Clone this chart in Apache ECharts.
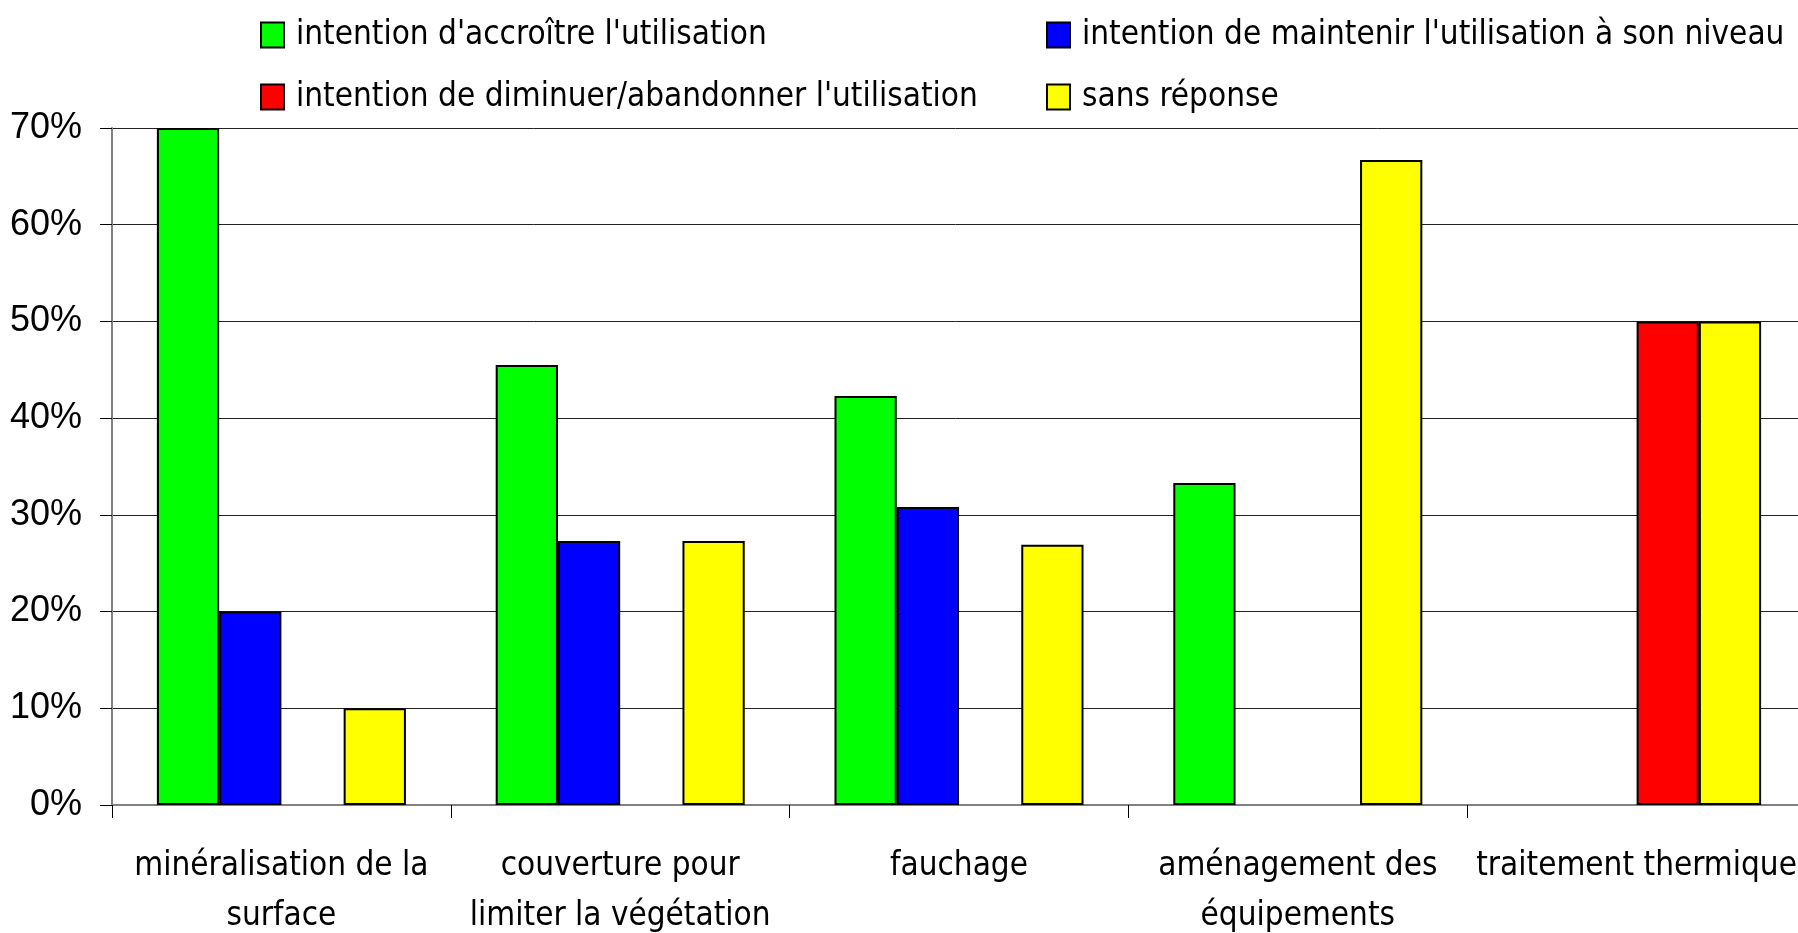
<!DOCTYPE html>
<html><head><meta charset="utf-8">
<script src="https://cdn.jsdelivr.net/npm/echarts@6/dist/echarts.min.js"></script>
<style>html,body{margin:0;padding:0;background:#fff}#c{width:1798px;height:933px}</style>
</head><body><div id="c"></div>
<script>
const categories = ["minéralisation de la\nsurface", "couverture pour\nlimiter la végétation", "fauchage", "aménagement des\néquipements", "traitement thermique"];
const seriesNames = ["intention d'accroître l'utilisation", "intention de maintenir l'utilisation à son niveau", "intention de diminuer/abandonner l'utilisation", "sans réponse"];
const accroitre = [70, 45.5, 42.3, 33.3, null];
const maintenir = [20, 27.3, 30.8, null, null];
const diminuer = [null, null, null, null, 50];
const sansReponse = [10, 27.3, 26.9, 66.7, 50];
const yTicks = [0, 10, 20, 30, 40, 50, 60, 70];
const colors = ["#00ff00", "#0000ff", "#ff0000", "#ffff00"];

const narrow = "'Liberation Sans Narrow', 'DejaVu Sans Condensed', 'Liberation Sans', sans-serif";
const values = [accroitre, maintenir, diminuer, sansReponse];
const legendText = { fontFamily: narrow, fontSize: 33, color: '#000', lineHeight: 36, padding: [0, 0, 0, 7] };
const chart = echarts.init(document.getElementById('c'));
chart.setOption({
  animation: false,
  backgroundColor: '#fff',
  grid: { left: 112, right: -8, top: 128, bottom: 128, outerBoundsMode: 'none', containLabel: false },
  legend: [
    { orient: 'vertical', left: 260, top: 17, padding: 0, icon: 'rect', itemWidth: 23, itemHeight: 25, itemGap: 26,
      data: [seriesNames[0], seriesNames[2]], textStyle: legendText },
    { orient: 'vertical', left: 1046, top: 17, padding: 0, icon: 'rect', itemWidth: 23, itemHeight: 25, itemGap: 26,
      data: [seriesNames[1], seriesNames[3]], textStyle: legendText }
  ],
  xAxis: {
    type: 'category', data: categories,
    axisLine: { lineStyle: { color: '#808080', width: 2 } },
    axisTick: { show: true, length: 13, lineStyle: { color: '#000', width: 1 } },
    axisLabel: { fontFamily: narrow, fontSize: 33, color: '#000', lineHeight: 50, margin: 36, interval: 0 }
  },
  yAxis: {
    type: 'value', min: 0, max: 70, interval: 10,
    axisLine: { show: true, lineStyle: { color: '#808080', width: 2 } },
    axisTick: { show: true, length: 12, lineStyle: { color: '#000', width: 1 } },
    axisLabel: { formatter: v => yTicks.includes(v) ? v + '%' : '', fontFamily: "'Liberation Sans', Arial, sans-serif", fontSize: 36, color: '#000', margin: 30 },
    splitLine: { lineStyle: { color: '#222', width: 1 } }
  },
  series: seriesNames.map((n, i) => ({
    name: n, type: 'bar', data: values[i],
    barGap: '0%', barCategoryGap: '26.5%',
    itemStyle: { color: colors[i], borderColor: '#000', borderWidth: 2 }
  }))
});
</script></body></html>
